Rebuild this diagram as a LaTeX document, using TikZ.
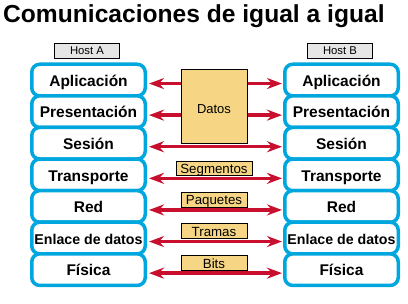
\documentclass[tikz,border=0pt]{standalone}
\usepackage{fontspec}
\setmainfont{Liberation Sans}
\usetikzlibrary{arrows.meta}
\definecolor{layerblue}{RGB}{0,166,222}
\definecolor{arrred}{RGB}{200,16,46}
\definecolor{pdufill}{RGB}{246,214,132}
\definecolor{hostfill}{RGB}{230,230,230}
\tikzset{
  layer/.style={draw=layerblue, line width=3.5pt, rounded corners=8pt, fill=white,
    minimum width=113.5pt, minimum height=31.6pt, inner sep=0pt,
    text height=12.6pt, text depth=0pt,
    font=\fontsize{15.5}{16}\selectfont\bfseries},
  smalllayer/.style={layer, text height=13pt, font=\fontsize{14.2}{15}\selectfont\bfseries},
  peer/.style={draw=arrred, line width=3.3pt,
    {Stealth[length=15pt, width=11pt, inset=5pt]}-{Stealth[length=15pt, width=11pt, inset=5pt]}},
  pdu/.style={draw=black, line width=0.8pt, fill=pdufill, inner sep=0pt,
    minimum width=66pt, minimum height=15pt, text height=10.5pt, text depth=0pt,
    font=\fontsize{13.3}{14}\selectfont},
  host/.style={draw=black, line width=0.6pt, fill=hostfill, inner sep=0pt,
    minimum width=65pt, minimum height=15pt, text height=8.1pt, text depth=0pt,
    font=\fontsize{11.3}{12}\selectfont}
}
\begin{document}
\begin{tikzpicture}[x=1pt,y=-1pt]
\useasboundingbox (0,0) rectangle (408,304);
\node[anchor=base west, inner sep=0pt, font=\fontsize{24.6}{26}\selectfont\bfseries] (title) at (3,23) {Comunicaciones de igual a igual};
\node[host] (hosta) at (87,50.5) {Host A};
\node[host] (hostb) at (340,50.5) {Host B};
% left stack
\node[layer] (la1) at (88.5,80.05) {Aplicación};
\node[layer] (la2) at (88.5,111.65) {Presentación};
\node[layer] (la3) at (88.5,143.25) {Sesión};
\node[layer] (la4) at (88.5,174.85) {Transporte};
\node[layer] (la5) at (88.5,206.45) {Red};
\node[smalllayer] (la6) at (88.5,238.05) {Enlace de datos};
\node[layer] (la7) at (88.5,269.65) {Física};
% right stack
\node[layer] (rb1) at (341.5,80.05) {Aplicación};
\node[layer] (rb2) at (341.5,111.65) {Presentación};
\node[layer] (rb3) at (341.5,143.25) {Sesión};
\node[layer] (rb4) at (341.5,174.85) {Transporte};
\node[layer] (rb5) at (341.5,206.45) {Red};
\node[smalllayer] (rb6) at (341.5,238.05) {Enlace de datos};
\node[layer] (rb7) at (341.5,269.65) {Física};
% peer arrows
\foreach \i in {1,...,7}{
  \draw[peer] ([xshift=2pt,yshift=-3.5pt]la\i.east) -- ([xshift=-1pt,yshift=-3.5pt]rb\i.west);
}
% PDUs
\node[pdu, minimum height=74pt, text height=9.3pt, font=\fontsize{13}{14}\selectfont] (datos) at (214,106) {\raisebox{-2.7pt}{Datos}};
\node[pdu, minimum width=76pt, minimum height=14pt] (segm) at (214,168) {Segmentos};
\node[pdu] (paq) at (214,199.5) {Paquetes};
\node[pdu] (tram) at (214,231) {Tramas};
\node[pdu] (bits) at (214,263) {Bits};
\end{tikzpicture}
\end{document}
